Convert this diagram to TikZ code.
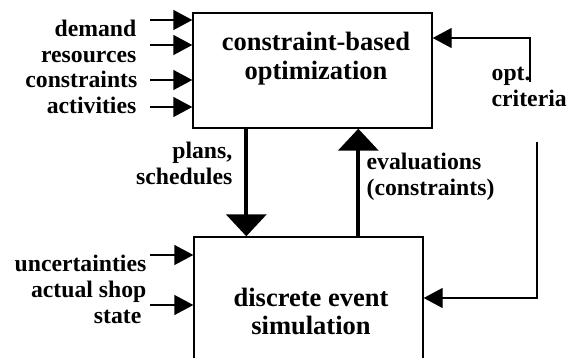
\documentclass[tikz,border=0pt]{standalone}
\usepackage{fontspec}
\setmainfont{Liberation Serif}
\usetikzlibrary{arrows.meta}
\def\sidefont{\fontsize{23.7}{26}\selectfont\bfseries}
\def\boxfont{\fontsize{26.5}{28.5}\selectfont\bfseries}
\def\feed{\draw[-{Triangle[length=19pt,width=20pt]}]}
\def\flow{\draw[line width=4pt,-{Triangle[length=22pt,width=40pt]}]}

\begin{document}
\begin{tikzpicture}[x=1pt,y=-1pt,line width=1.4pt,
    blk/.style={draw,inner sep=0pt},
    side/.style={font=\sidefont,inner sep=0pt},
    inner/.style={font=\boxfont,align=center,inner sep=0pt}]
    \useasboundingbox (0,0) rectangle (571,358);
    % the two blocks
    \node[blk,minimum width=239pt,minimum height=115pt] (opt) at (312.5,70.5) {};
    \node[inner] (optlbl) at (316,58.5) {constraint-based\\optimization};
    \node[blk,minimum width=229pt,minimum height=153pt] (sim) at (308.5,313.5) {};
    \node[inner] (simlbl) at (311,311.5) {discrete event\\simulation};
    % inputs of the optimization
    \node[side,anchor=base east] (dem) at (137,37) {demand};
    \node[side,anchor=base east] (res) at (137,63) {resources};
    \node[side,anchor=base east] (con) at (138,88) {constraints};
    \node[side,anchor=base east] (act) at (137,114) {activities};
    \coordinate (i1) at (150,20);
    \coordinate (i2) at (150,45);
    \coordinate (i3) at (150,80);
    \coordinate (i4) at (150,107);
    \feed (i1) -- (i1 -| opt.west);
    \feed (i2) -- (i2 -| opt.west);
    \feed (i3) -- (i3 -| opt.west);
    \feed (i4) -- (i4 -| opt.west);
    % inputs of the simulation
    \node[side,anchor=base east] (unc) at (147,272) {uncertainties};
    \node[side,anchor=base east] (shop) at (147,298) {actual shop};
    \node[side,anchor=base east] (state) at (142,324) {state};
    \coordinate (i5) at (150,255);
    \coordinate (i6) at (150,305);
    \feed (i5) -- (i5 -| sim.west);
    \feed (i6) -- (i6 -| sim.west);
    % plans down, evaluations up
    \flow ([xshift=54pt]opt.south west) -- ([xshift=53pt]sim.north west);
    \node[side,align=right,anchor=base east] (plans) at (233,185) {plans,\\schedules};
    \flow ([xshift=165pt]sim.north west) -- ([xshift=166pt]opt.south west);
    \node[side,align=left,anchor=base west] (eval) at (366,196) {evaluations\\(constraints)};
    % optimization criteria
    \node[side,align=left,anchor=base west] (crit) at (491,107) {opt.\\criteria};
    \coordinate (c1) at (530,82);
    \coordinate (c2) at (537,142);
    \feed (c1) |- ([yshift=32.5pt]opt.east);
    \feed (c2) |- ([yshift=15.5pt]sim.east);
\end{tikzpicture}
\end{document}
